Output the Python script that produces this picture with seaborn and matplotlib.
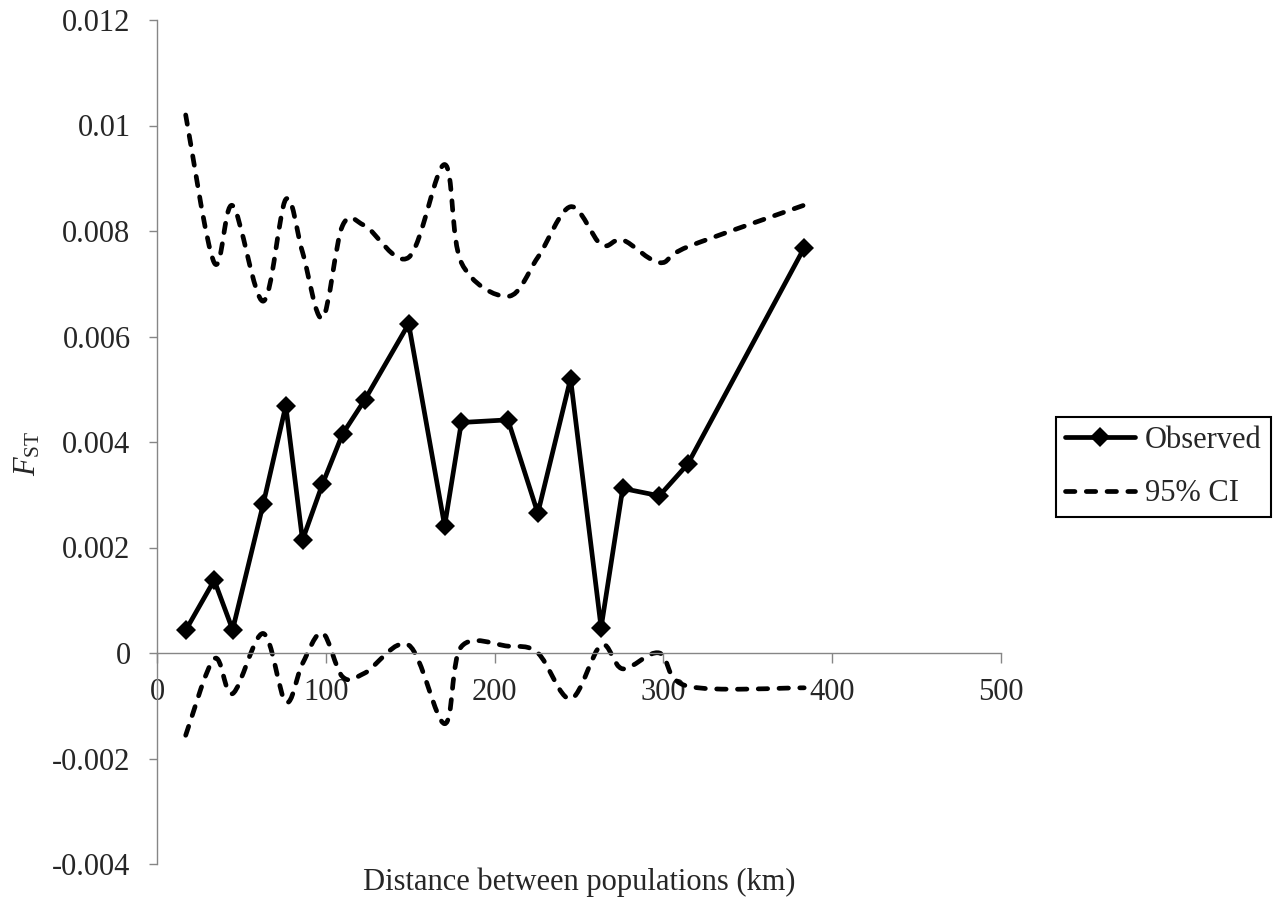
import numpy as np
import pandas as pd
import matplotlib
matplotlib.use("Agg")
import matplotlib.pyplot as plt
import seaborn as sns
from matplotlib.path import Path
from matplotlib.patches import PathPatch
from matplotlib.lines import Line2D

# ---- data ----
distance_km = [17.0, 33.9, 44.8, 62.9, 76.3, 86.2, 98.0, 109.9, 123.1, 149.1,
               170.4, 180.3, 207.9, 225.6, 245.0, 263.1, 275.9, 297.6, 314.4, 383.4]
fst_observed = [0.00043, 0.00138, 0.00044, 0.00282, 0.00469, 0.00214, 0.00320, 0.00415,
                0.00480, 0.00624, 0.00241, 0.00437, 0.00442, 0.00265, 0.00520, 0.00048,
                0.00312, 0.00298, 0.00358, 0.00768]
ci_upper = [0.0102, 0.0074, 0.00848, 0.00667, 0.0086, 0.0076, 0.00635, 0.0081, 0.0081,
            0.0075, 0.00926, 0.0074, 0.00676, 0.0075, 0.00846, 0.00774, 0.00783, 0.0074,
            0.0077, 0.00849]
ci_lower = [-0.00156, -0.00011, -0.00077, 0.00037, -0.00093, -0.0002, 0.00038, -0.00045,
            -0.00038, 0.00015, -0.00134, 0.00012, 0.00013, 0.0, -0.00087, 0.00015,
            -0.0003, 0.0, -0.00063, -0.00066]
x_ticks = [0, 100, 200, 300, 400, 500]
y_ticks = [-0.004, -0.002, 0, 0.002, 0.004, 0.006, 0.008, 0.01, 0.012]
y_tick_labels = ["-0.004", "-0.002", "0", "0.002", "0.004", "0.006", "0.008", "0.01", "0.012"]
legend_labels = ["Observed", "95% CI"]
x_label = "Distance between populations (km)"

sns.set_style("white")
plt.rcParams["font.family"] = ["Liberation Serif", "DejaVu Serif"]
plt.rcParams["mathtext.fontset"] = "custom"
plt.rcParams["mathtext.rm"] = "Liberation Serif"
plt.rcParams["mathtext.it"] = "Liberation Serif:italic"
plt.rcParams["axes.unicode_minus"] = False

FS = 22
GRAY = "#868686"
LW = 3.4
DASH = (0, (2.0, 2.4))

fig = plt.figure(figsize=(12.82, 9.06), dpi=100)
ax = fig.add_axes([157 / 1282, 1 - 864 / 906, (1001 - 157) / 1282, (864 - 20) / 906])

df = pd.DataFrame({"distance": distance_km, "fst": fst_observed})
sns.lineplot(data=df, x="distance", y="fst", ax=ax, color="black", linewidth=LW,
             marker="D", markersize=10, markeredgewidth=0, sort=False, legend=False,
             zorder=3)


def smooth_path(xs, ys):
    pts = np.column_stack([xs, ys]).astype(float)
    n = len(pts)
    verts = [pts[0]]
    codes = [Path.MOVETO]
    for i in range(n - 1):
        p0 = pts[i - 1] if i > 0 else pts[i]
        p1 = pts[i]
        p2 = pts[i + 1]
        p3 = pts[i + 2] if i + 2 < n else pts[i + 1]
        verts += [p1 + (p2 - p0) / 6.0, p2 - (p3 - p1) / 6.0, p2]
        codes += [Path.CURVE4] * 3
    return Path(np.array(verts), codes)


for series in (ci_upper, ci_lower):
    patch = PathPatch(smooth_path(distance_km, series), facecolor="none", edgecolor="black",
                      linewidth=LW, linestyle=DASH, transform=ax.transData, zorder=2)
    patch.set_capstyle("round")
    patch.set_joinstyle("round")
    ax.add_patch(patch)

ax.set_xlim(0, 500)
ax.set_ylim(-0.004, 0.012)
ax.set_xticks(x_ticks)
ax.set_xticklabels([str(t) for t in x_ticks])
ax.set_yticks(y_ticks)
ax.set_yticklabels(y_tick_labels)

for s in ("top", "right"):
    ax.spines[s].set_visible(False)
ax.spines["bottom"].set_position(("data", 0))
for s in ("left", "bottom"):
    ax.spines[s].set_color(GRAY)
    ax.spines[s].set_linewidth(1.0)

ax.tick_params(axis="y", direction="out", length=6, width=1.0, color=GRAY,
               labelsize=FS, pad=13, left=True)
ax.tick_params(axis="x", direction="out", length=7, width=1.0, color=GRAY,
               labelsize=FS, pad=11, bottom=True)

ax.set_xlabel(x_label, fontsize=FS)
ax.xaxis.set_label_coords(0.5, -0.004)
ax.set_ylabel(r"$\mathit{F}_{\mathrm{ST}}$", fontsize=FS, rotation=90, va="center", ha="center")
ax.yaxis.set_label_coords(-(157 - 28) / 844, 0.487)

handles = [
    Line2D([], [], color="black", linewidth=LW, marker="D", markersize=10, markeredgewidth=0),
    Line2D([], [], color="black", linewidth=LW, linestyle=DASH, dash_capstyle="round"),
]
leg = fig.legend(handles, legend_labels, loc="center left",
                 bbox_to_anchor=(1056 / 1282, 1 - 467 / 906), bbox_transform=fig.transFigure,
                 fontsize=FS, frameon=True, fancybox=False, framealpha=1, edgecolor="black",
                 borderaxespad=0, borderpad=0.3, labelspacing=0.8, handlelength=2.3,
                 handletextpad=0.3)
leg.get_frame().set_linewidth(1.5)

fig.savefig("out.png", dpi=100, facecolor="white")
